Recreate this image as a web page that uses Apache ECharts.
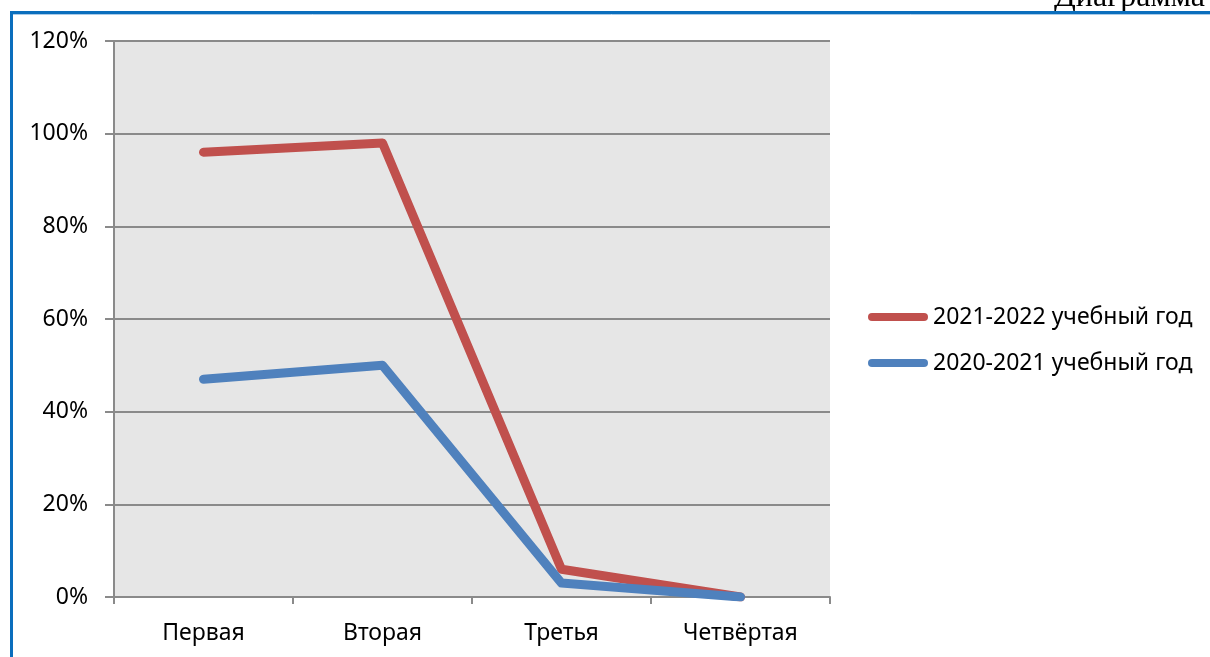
<!DOCTYPE html>
<html>
<head>
<meta charset="utf-8">
<script src="https://cdn.jsdelivr.net/npm/echarts@6/dist/echarts.min.js"></script>
<style>
html,body{margin:0;padding:0;background:#fff;}
#chart{width:1210px;height:657px;}
</style>
</head>
<body>
<div id="chart"></div>
<script>
const categories = ['Первая', 'Вторая', 'Третья', 'Четвёртая'];
const series2122 = [96, 98, 6, 0];
const series2021 = [47, 50, 3, 0];
const seriesNames = ['2021-2022 учебный год', '2020-2021 учебный год'];
const yTicks = { min: 0, max: 120, interval: 20 };
const captionText = 'Диаграмма';

const chart = echarts.init(document.getElementById('chart'), null, { renderer: 'canvas' });
const FONT = 'Noto Sans';
const axisGrey = '#8a8a8a';
const capsule = 'path://M4,0 L56,0 A4,4 0 0 1 56,8 L4,8 A4,4 0 0 1 4,0 Z';

chart.setOption({
  backgroundColor: '#ffffff',
  animation: false,
  grid: { left: 114, right: 380, top: 41, bottom: 60, show: true, backgroundColor: '#e6e6e6', borderWidth: 0 },
  legend: {
    orient: 'vertical',
    left: 863,
    top: 298,
    itemWidth: 60,
    itemHeight: 9,
    itemGap: 18,
    data: seriesNames.map(n => ({ name: n, icon: capsule })),
    textStyle: { fontFamily: FONT, fontSize: 23, color: '#000', lineHeight: 28 }
  },
  xAxis: {
    type: 'category',
    data: categories,
    boundaryGap: true,
    axisLine: { show: true, lineStyle: { color: axisGrey, width: 2 } },
    axisTick: { show: true, length: 7, lineStyle: { color: axisGrey, width: 2 } },
    axisLabel: { fontFamily: FONT, fontSize: 23, color: '#000', margin: 25 },
    splitLine: { show: false }
  },
  yAxis: {
    type: 'value',
    min: yTicks.min,
    max: yTicks.max,
    interval: yTicks.interval,
    axisLine: { show: true, lineStyle: { color: axisGrey, width: 2 } },
    axisTick: { show: true, length: 9, lineStyle: { color: axisGrey, width: 2 } },
    axisLabel: { fontFamily: FONT, fontSize: 23, color: '#000', margin: 26, formatter: '{value}%' },
    splitLine: { show: true, lineStyle: { color: axisGrey, width: 2 } }
  },
  series: [
    {
      name: seriesNames[0], type: 'line', data: series2122,
      symbol: 'none', color: '#c0504d',
      lineStyle: { width: 9, color: '#c0504d', cap: 'round', join: 'round' }
    },
    {
      name: seriesNames[1], type: 'line', data: series2021,
      symbol: 'none', color: '#4f81bd',
      lineStyle: { width: 9, color: '#4f81bd', cap: 'round', join: 'round' }
    }
  ],
  graphic: [
    {
      type: 'text', x: 1205, y: -2,
      style: { text: captionText, font: '32px "Liberation Serif"', fill: '#000', align: 'right', verticalAlign: 'middle' }, z: 90
    },
    {
      type: 'line', shape: { x1: 11.5, y1: 12.5, x2: 1210, y2: 12.5 },
      style: { stroke: '#0a6ebd', lineWidth: 3 }, z: 100
    },
    {
      type: 'line', shape: { x1: 11.5, y1: 11, x2: 11.5, y2: 657 },
      style: { stroke: '#0a6ebd', lineWidth: 3 }, z: 100
    },
    {
      type: 'line', shape: { x1: 13, y1: 14.5, x2: 1210, y2: 14.5 },
      style: { stroke: '#a9cbe8', lineWidth: 1 }, z: 100
    }
  ]
});
</script>
</body>
</html>
